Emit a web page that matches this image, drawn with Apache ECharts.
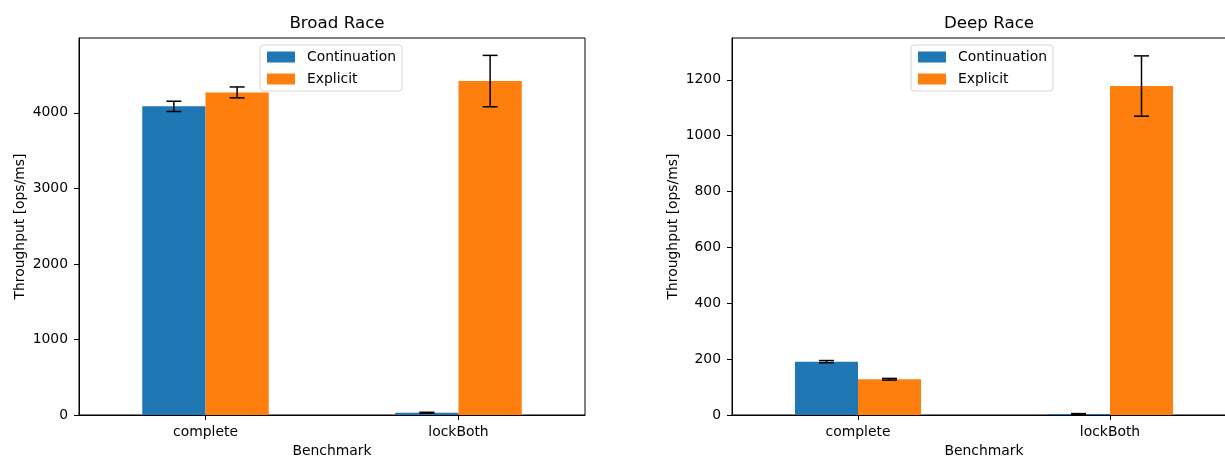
<!DOCTYPE html>
<html>
<head>
<meta charset="utf-8">
<script src="https://cdn.jsdelivr.net/npm/echarts@6/dist/echarts.min.js"></script>
<style>
html,body{margin:0;padding:0;overflow:hidden;background:#fff;}
#c{width:1225px;height:457px;}
</style>
</head>
<body>
<div id="c"></div>
<script>
const categories = ['complete', 'lockBoth'];
const seriesNames = ['Continuation', 'Explicit'];
const broadCont = [4085, 30];
const broadContErr = [68, 6];
const broadExpl = [4270, 4420];
const broadExplErr = [72, 340];
const deepCont = [191, 4];
const deepContErr = [4, 1];
const deepExpl = [128, 1178];
const deepExplErr = [3, 108];
const broadTicks = [0, 1000, 2000, 3000, 4000];
const deepTicks = [0, 200, 400, 600, 800, 1000, 1200];

const BLUE = '#1f77b4', ORANGE = '#ff7f0e';
const FONT = 'DejaVu Sans';
const FS = 13.9;

const chart = echarts.init(document.getElementById('c'), null, {renderer: 'canvas'});

function errData(vals, errs) {
  return vals.map((v, i) => [i, v, errs[i]]);
}
function errSeries(idx, data, side) {
  return {
    type: 'custom',
    xAxisIndex: idx, yAxisIndex: idx,
    z: 10,
    silent: true,
    data: data,
    encode: {x: 0, y: 1},
    renderItem: function (params, api) {
      const c = api.value(0), v = api.value(1), e = api.value(2);
      const band = api.size([1, 0])[0];
      const x = api.coord([c, v])[0] + side * band * 0.125;
      const yTop = api.coord([c, v + e])[1];
      const yBot = api.coord([c, v - e])[1];
      const hw = 7.5;
      const st = {stroke: '#000', lineWidth: 1.5};
      return {
        type: 'group',
        children: [
          {type: 'line', shape: {x1: x, y1: yTop, x2: x, y2: yBot}, style: st},
          {type: 'line', shape: {x1: x - hw, y1: yTop, x2: x + hw, y2: yTop}, style: st},
          {type: 'line', shape: {x1: x - hw, y1: yBot, x2: x + hw, y2: yBot}, style: st}
        ]
      };
    }
  };
}
function barSeries(idx, name, vals, color) {
  return {
    type: 'bar', name: name,
    xAxisIndex: idx, yAxisIndex: idx,
    data: vals, barWidth: '25%', barGap: '0%',
    itemStyle: {color: color},
    emphasis: {disabled: true}
  };
}
function yAxis(idx, max, ticks) {
  return {
    type: 'value', gridIndex: idx, min: 0, max: max,
    name: 'Throughput [ops/ms]', nameLocation: 'middle', nameGap: 52,
    nameTextStyle: {fontFamily: FONT, fontSize: FS, color: '#000'},
    axisLine: {show: true, lineStyle: {color: '#000', width: 1}},
    axisTick: {show: true, length: 5, customValues: ticks, lineStyle: {color: '#000'}},
    axisLabel: {customValues: ticks, formatter: v => String(v), fontFamily: FONT, fontSize: FS, color: '#000', margin: 11},
    splitLine: {show: false}
  };
}
function xAxis(idx) {
  return {
    type: 'category', gridIndex: idx, data: categories,
    name: 'Benchmark', nameLocation: 'middle', nameGap: 28,
    nameTextStyle: {fontFamily: FONT, fontSize: FS, color: '#000'},
    axisLine: {show: true, lineStyle: {color: '#000', width: 1}},
    axisTick: {show: true, alignWithLabel: true, length: 5, lineStyle: {color: '#000'}},
    axisLabel: {fontFamily: FONT, fontSize: FS, color: '#000', margin: 10}
  };
}
function legend(left) {
  return {
    orient: 'vertical', left: left, top: 45,
    data: seriesNames,
    itemWidth: 28, itemHeight: 11, itemGap: 8,
    icon: 'rect',
    backgroundColor: '#fff', borderColor: '#d6d6d6', borderWidth: 1, borderRadius: 3,
    padding: [5, 6, 5, 7],
    textStyle: {fontFamily: FONT, fontSize: FS, color: '#000', lineHeight: 12, padding: [0, 0, 0, 7]},
    selectedMode: false
  };
}

chart.setOption({
  animation: false,
  title: [
    {text: 'Broad Race', left: 332, top: 10, textAlign: 'center',
     textStyle: {fontFamily: FONT, fontSize: 16.7, fontWeight: 'normal', color: '#000'}},
    {text: 'Deep Race', left: 984, top: 10, textAlign: 'center',
     textStyle: {fontFamily: FONT, fontSize: 16.7, fontWeight: 'normal', color: '#000'}}
  ],
  legend: [legend(260), legend(911)],
  grid: [
    {left: 79, top: 38, width: 506, height: 377, outerBoundsMode: 'none', containLabel: false, show: true, borderColor: '#000', borderWidth: 1, backgroundColor: 'transparent'},
    {left: 732, top: 38, width: 504, height: 377, outerBoundsMode: 'none', containLabel: false, show: true, borderColor: '#000', borderWidth: 1, backgroundColor: 'transparent'}
  ],
  xAxis: [xAxis(0), xAxis(1)],
  yAxis: [yAxis(0, 4990, broadTicks), yAxis(1, 1350, deepTicks)],
  series: [
    barSeries(0, seriesNames[0], broadCont, BLUE),
    barSeries(0, seriesNames[1], broadExpl, ORANGE),
    barSeries(1, seriesNames[0], deepCont, BLUE),
    barSeries(1, seriesNames[1], deepExpl, ORANGE),
    errSeries(0, errData(broadCont, broadContErr), -1),
    errSeries(0, errData(broadExpl, broadExplErr), 1),
    errSeries(1, errData(deepCont, deepContErr), -1),
    errSeries(1, errData(deepExpl, deepExplErr), 1)
  ]
});
</script>
</body>
</html>
